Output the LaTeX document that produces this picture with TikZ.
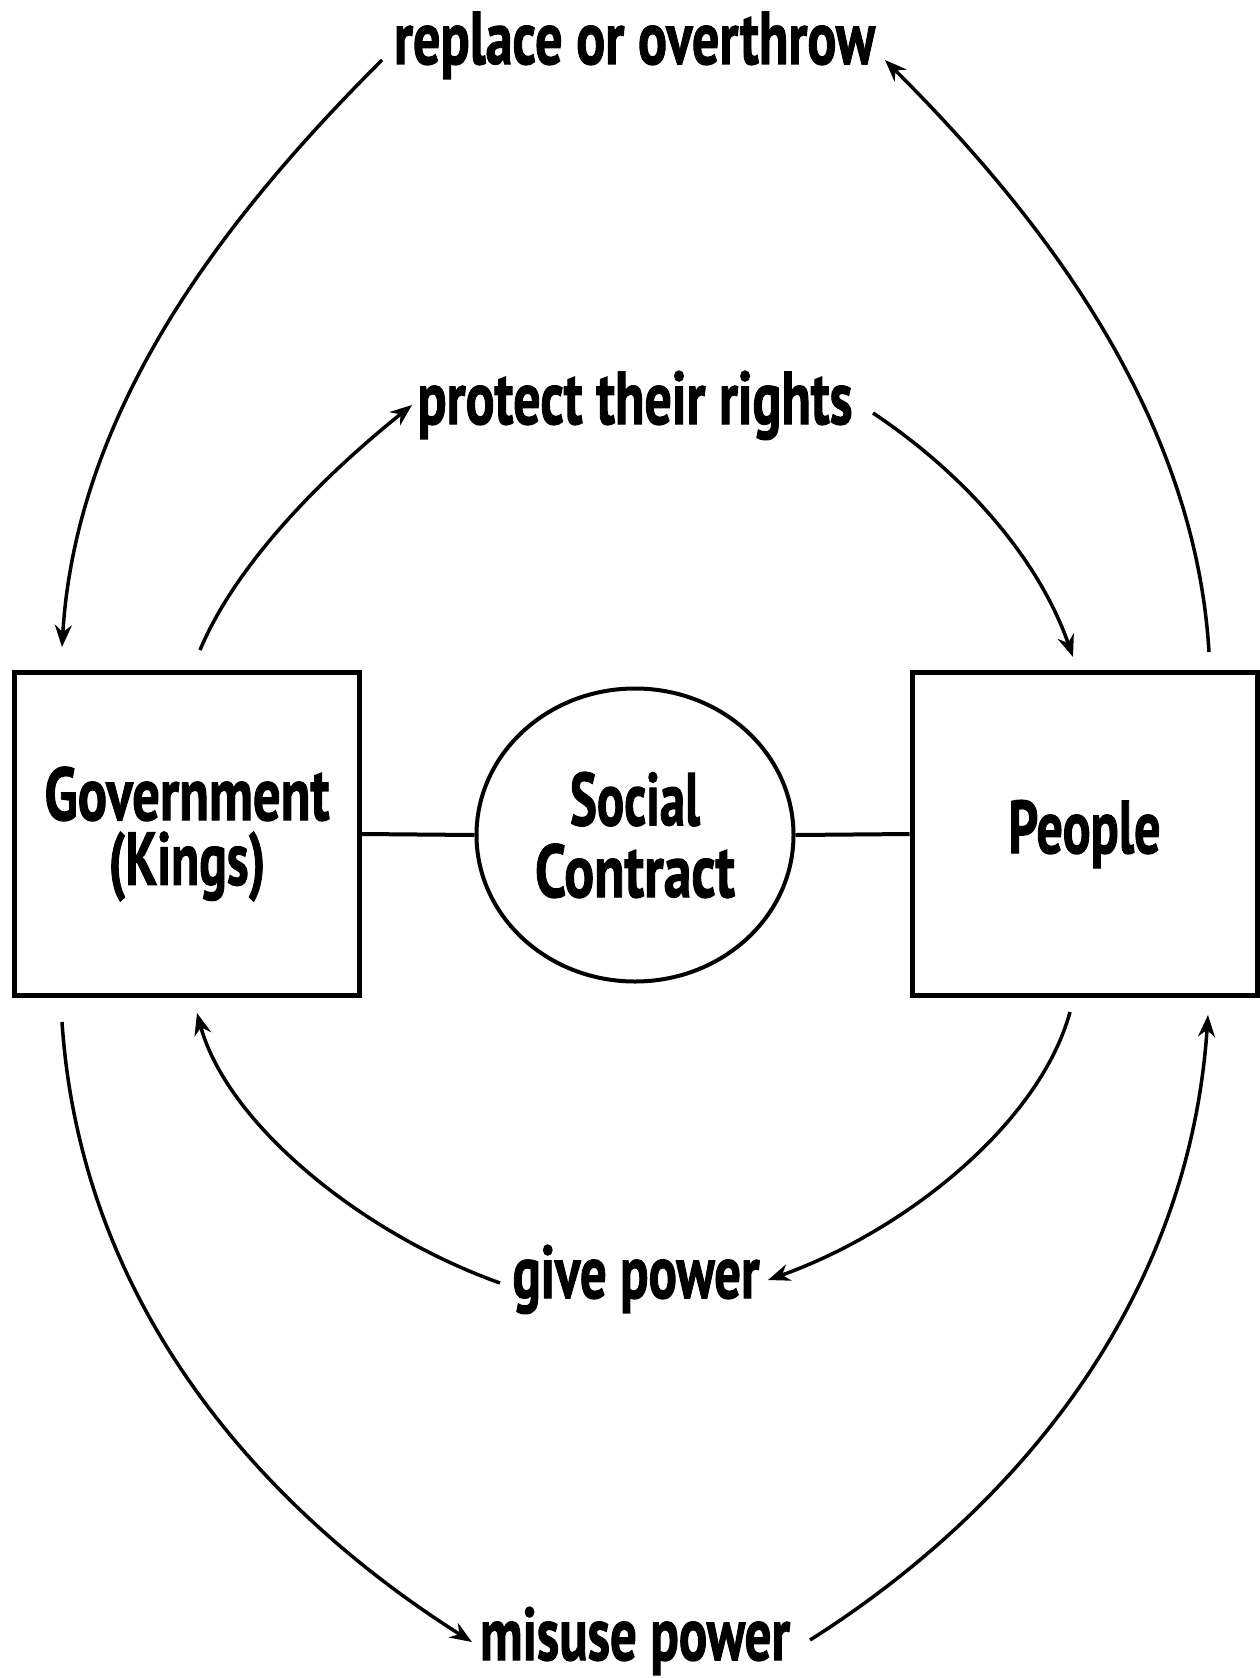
\documentclass[tikz,border=0pt]{standalone}
\usepackage{fontspec}
\setmainfont{PT Sans}[BoldFeatures={FakeBold=1.6}]
\usepackage{graphicx}
\usetikzlibrary{arrows.meta,shapes.geometric}
\newsavebox\fitbox
\newlength\fitlen
\newcommand\fitw[2]{\sbox\fitbox{#2}\setlength\fitlen{\wd\fitbox}\scalebox{\fpeval{#1bp/\fitlen}}[1]{\usebox\fitbox}}
\tikzset{
  txt/.style={font=\bfseries\fontsize{75}{65}\selectfont},
  lbl/.style={txt, inner sep=0pt, anchor=base},
  box/.style={draw, line width=5bp, minimum width=345bp, minimum height=323bp, inner sep=0pt, align=center, txt},
  oval/.style={draw, ellipse, line width=4bp, minimum width=317bp, minimum height=293bp, inner sep=0pt, align=center, txt},
  arr/.style={line width=3.5bp, -{Stealth[length=22bp,width=17bp]}},
  link/.style={line width=4bp}
}
\begin{document}
\begin{tikzpicture}[x=1bp,y=-1bp]
\useasboundingbox (0,0) rectangle (1259,1678);
% nodes
\node[box] (gov) at (187,834) {\fitw{285}{Government}\\\fitw{157}{(Kings)}};
\node[box] (ppl) at (1084.5,834) {\fitw{152}{People}};
\node[oval,font=\bfseries\fontsize{75}{72}\selectfont] (sc) at (635,835) {\fitw{130}{Social}\\\fitw{200}{Contract}};
\node[lbl] (l1) at (634.5,64) {\fitw{481}{replace or overthrow}};
\node[lbl] (l2) at (635,424) {\fitw{435}{protect their rights}};
\node[lbl] (l3) at (636,1298) {\fitw{247}{give power}};
\node[lbl] (l4) at (635,1660) {\fitw{310}{misuse power}};
% links
\draw[link] (gov.east) -- (sc.west);
\draw[link] (sc.east) -- (ppl.west);
% arrow end points
\coordinate (a1) at (382,60);   \coordinate (b1) at (62,647);
\coordinate (a2) at (1209,652); \coordinate (b2) at (885,60);
\coordinate (a3) at (200,650);  \coordinate (b3) at (412,405);
\coordinate (a4) at (873,413);  \coordinate (b4) at (1073,657);
\coordinate (a5) at (500,1283); \coordinate (b5) at (197,1013);
\coordinate (a6) at (1070,1012);\coordinate (b6) at (768,1280);
\coordinate (a7) at (62,1022);  \coordinate (b7) at (472,1642);
\coordinate (a8) at (810,1640); \coordinate (b8) at (1208,1015);
% arrows
\draw[arr] (a1) .. controls +(-140,140) and +(15,-250) .. (b1);
\draw[arr] (a2) .. controls +(-15,-250) and +(140,140) .. (b2);
\draw[arr] (a3) .. controls +(40,-95) and +(-75,60) .. (b3);
\draw[arr] (a4) .. controls +(90,60) and +(-35,-100) .. (b4);
\draw[arr] (a5) .. controls +(-140,-50) and +(30,110) .. (b5);
\draw[arr] (a6) .. controls +(-30,110) and +(140,-50) .. (b6);
\draw[arr] (a7) .. controls +(20,300) and +(-190,-120) .. (b7);
\draw[arr] (a8) .. controls +(190,-120) and +(-20,300) .. (b8);
\end{tikzpicture}
\end{document}
